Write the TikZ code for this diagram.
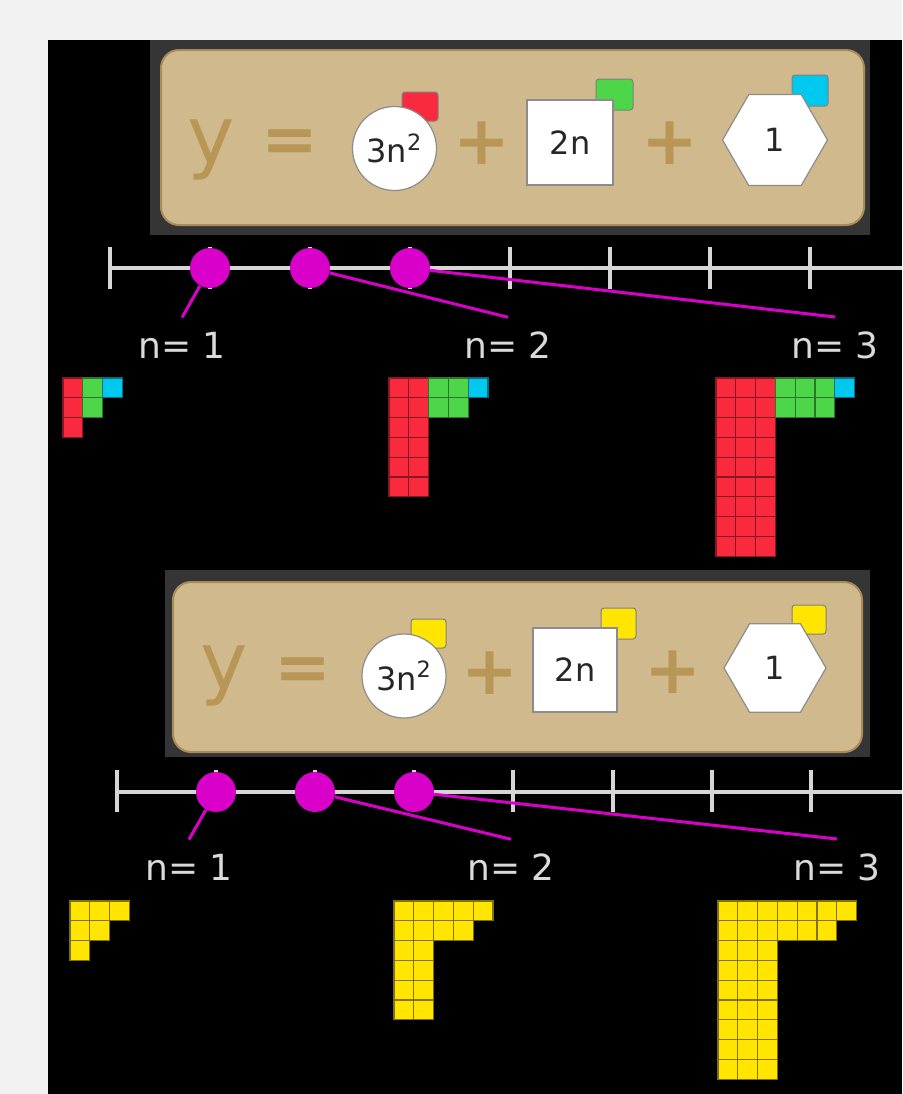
\documentclass[tikz,border=0pt]{standalone}
\usepackage{fontspec}
\setmainfont{DejaVu Sans}
\usepackage{tikz}
\usetikzlibrary{shapes.geometric}

\definecolor{fond}{HTML}{F2F2F2}
\definecolor{cadregris}{HTML}{353535}
\definecolor{bois}{HTML}{D0B98C}
\definecolor{boisbord}{HTML}{A88B58}
\definecolor{boisfonce}{HTML}{B89656}
\definecolor{rouge}{HTML}{FA2A3E}
\definecolor{vert}{HTML}{4ED64A}
\definecolor{bleuclair}{HTML}{00C8EE}
\definecolor{jaune}{HTML}{FFE500}
\definecolor{mauve}{HTML}{D900C9}
\definecolor{axegris}{HTML}{D6D6D6}
\definecolor{labgris}{HTML}{DADADA}

\begin{document}
\begin{tikzpicture}[
  x=0.5pt, y=-0.5pt,
  axe/.style={draw=axegris, line width=2pt},
  pastille/.style={circle, fill=mauve, inner sep=0pt, minimum size=20pt},
  lien/.style={draw=mauve, line width=1.5pt},
  lab/.style={font=\fontsize{18}{18}\selectfont, text=labgris, inner xsep=0pt, inner ysep=7pt},
  plaque/.style={fill=bois, draw=boisbord, line width=1pt, rounded corners=9pt},
  signe/.style={text=boisfonce, inner sep=0pt},
  grand/.style={font=\fontsize{40}{40}\selectfont},
  gras/.style={font=\bfseries\fontsize{34}{34}\selectfont},
  piece/.style={
    fill=white, draw=black!45, line width=0.6pt, inner sep=0pt,
    text=black!85, font=\fontsize{16}{16}\selectfont
  },
  tag/.style={draw=black!50, line width=0.5pt, rounded corners=1.5pt},
  case/.style={line width=0.6pt}
]
\fill[fond] (0,0) rectangle (902,1094);
\useasboundingbox (0,0) rectangle (902,1094);
\fill[black] (48,40) rectangle (902,1094);

% --- 1. Plaque du haut ---
\fill[cadregris] (150,40) rectangle (870,235);
\draw[plaque] (161,50) rectangle (864,225);
\node[signe, grand] (yA) at (211,150) {y};
\node[signe, gras] (egalA) at (290,146) {=};
\draw[tag, fill=rouge] (402,92) rectangle (438,121);
\node[piece, circle, minimum size=42pt] (cercleA) at (394.5,148.5) {3n\textsuperscript{2}};
\node[signe, gras] (plusA) at (482,143) {+};
\draw[tag, fill=vert] (596,79) rectangle (633,110);
\node[piece, minimum width=43pt, minimum height=42.5pt] (carreA) at (570,142.5) {2n};
\node[signe, gras] (plusB) at (670,143) {+};
\draw[tag, fill=bleuclair] (792,75) rectangle (828,106);
\node[piece, regular polygon, regular polygon sides=6, minimum size=52.5pt] (hexA) at (775,140) {1};

% --- 2. Droite des n (haut) ---
\draw[axe] (110,268) -- (902,268);
\foreach \x in {110,210,...,810}
  \draw[axe] (\x,247) -- (\x,289);
\node[pastille] (dotA1) at (210,268) {};
\node[pastille] (dotA2) at (310,268) {};
\node[pastille] (dotA3) at (410,268) {};
\node[lab] (nA1) at (182,345) {n= 1};
\node[lab] (nA2) at (508,345) {n= 2};
\node[lab] (nA3) at (835,345) {n= 3};
\draw[lien] (dotA1) -- (nA1.north);
\draw[lien] (dotA2) -- (nA2.north);
\draw[lien] (dotA3) -- (nA3.north);

% --- 3. Motifs en couleurs ---
\foreach \n/\gx in {1/63, 2/389, 3/716} {
  \pgfmathtruncatemacro\na{\n-1}
  \pgfmathtruncatemacro\nb{3*\n-1}
  \pgfmathtruncatemacro\nc{2*\n-1}
  \begin{scope}[shift={(\gx,378)}]
    \foreach \i in {0,...,\na}
      \foreach \j in {0,...,\nb}
        \draw[case, fill=rouge, draw=rouge!55!black] (19.8*\i,19.8*\j) rectangle ++(19.8,19.8);
    \foreach \i in {\n,...,\nc}
      \foreach \j in {0,1}
        \draw[case, fill=vert, draw=vert!55!black] (19.8*\i,19.8*\j) rectangle ++(19.8,19.8);
    \draw[case, fill=bleuclair, draw=bleuclair!55!black] (19.8*2*\n,0) rectangle ++(19.8,19.8);
  \end{scope}
}

% --- 4. Plaque du bas ---
\fill[cadregris] (165,570) rectangle (870,757);
\draw[plaque] (173,582) rectangle (862,752);
\node[signe, grand] (yB) at (224.5,675.5) {y};
\node[signe, gras] (egalB) at (303,674) {=};
\draw[tag, fill=jaune] (411,619) rectangle (446,648);
\node[piece, circle, minimum size=42pt] (cercleB) at (404,676) {3n\textsuperscript{2}};
\node[signe, gras] (plusC) at (490,673) {+};
\draw[tag, fill=jaune] (601,608) rectangle (636,639);
\node[piece, minimum width=42pt, minimum height=42pt] (carreB) at (575,670) {2n};
\node[signe, gras] (plusD) at (673,672) {+};
\draw[tag, fill=jaune] (792,605) rectangle (826,634);
\node[piece, regular polygon, regular polygon sides=6, minimum size=51pt] (hexB) at (775,668) {1};

% --- 5. Droite des n (bas) ---
\draw[axe] (117,792) -- (902,792);
\foreach \x in {117,216,315,414,513,613,712,811}
  \draw[axe] (\x,770) -- (\x,812);
\node[pastille] (dotB1) at (216,792) {};
\node[pastille] (dotB2) at (315,792) {};
\node[pastille] (dotB3) at (414,792) {};
\node[lab] (nB1) at (189,867) {n= 1};
\node[lab] (nB2) at (511,867) {n= 2};
\node[lab] (nB3) at (837,867) {n= 3};
\draw[lien] (dotB1) -- (nB1.north);
\draw[lien] (dotB2) -- (nB2.north);
\draw[lien] (dotB3) -- (nB3.north);

% --- 6. Motifs en jaune ---
\foreach \n/\gx in {1/70, 2/394, 3/718} {
  \pgfmathtruncatemacro\na{\n-1}
  \pgfmathtruncatemacro\nb{3*\n-1}
  \pgfmathtruncatemacro\nc{2*\n-1}
  \begin{scope}[shift={(\gx,901)}]
    \foreach \i in {0,...,\na}
      \foreach \j in {0,...,\nb}
        \draw[case, fill=jaune, draw=jaune!50!black] (19.8*\i,19.8*\j) rectangle ++(19.8,19.8);
    \foreach \i in {\n,...,\nc}
      \foreach \j in {0,1}
        \draw[case, fill=jaune, draw=jaune!50!black] (19.8*\i,19.8*\j) rectangle ++(19.8,19.8);
    \draw[case, fill=jaune, draw=jaune!50!black] (19.8*2*\n,0) rectangle ++(19.8,19.8);
  \end{scope}
}

\end{tikzpicture}
\end{document}
